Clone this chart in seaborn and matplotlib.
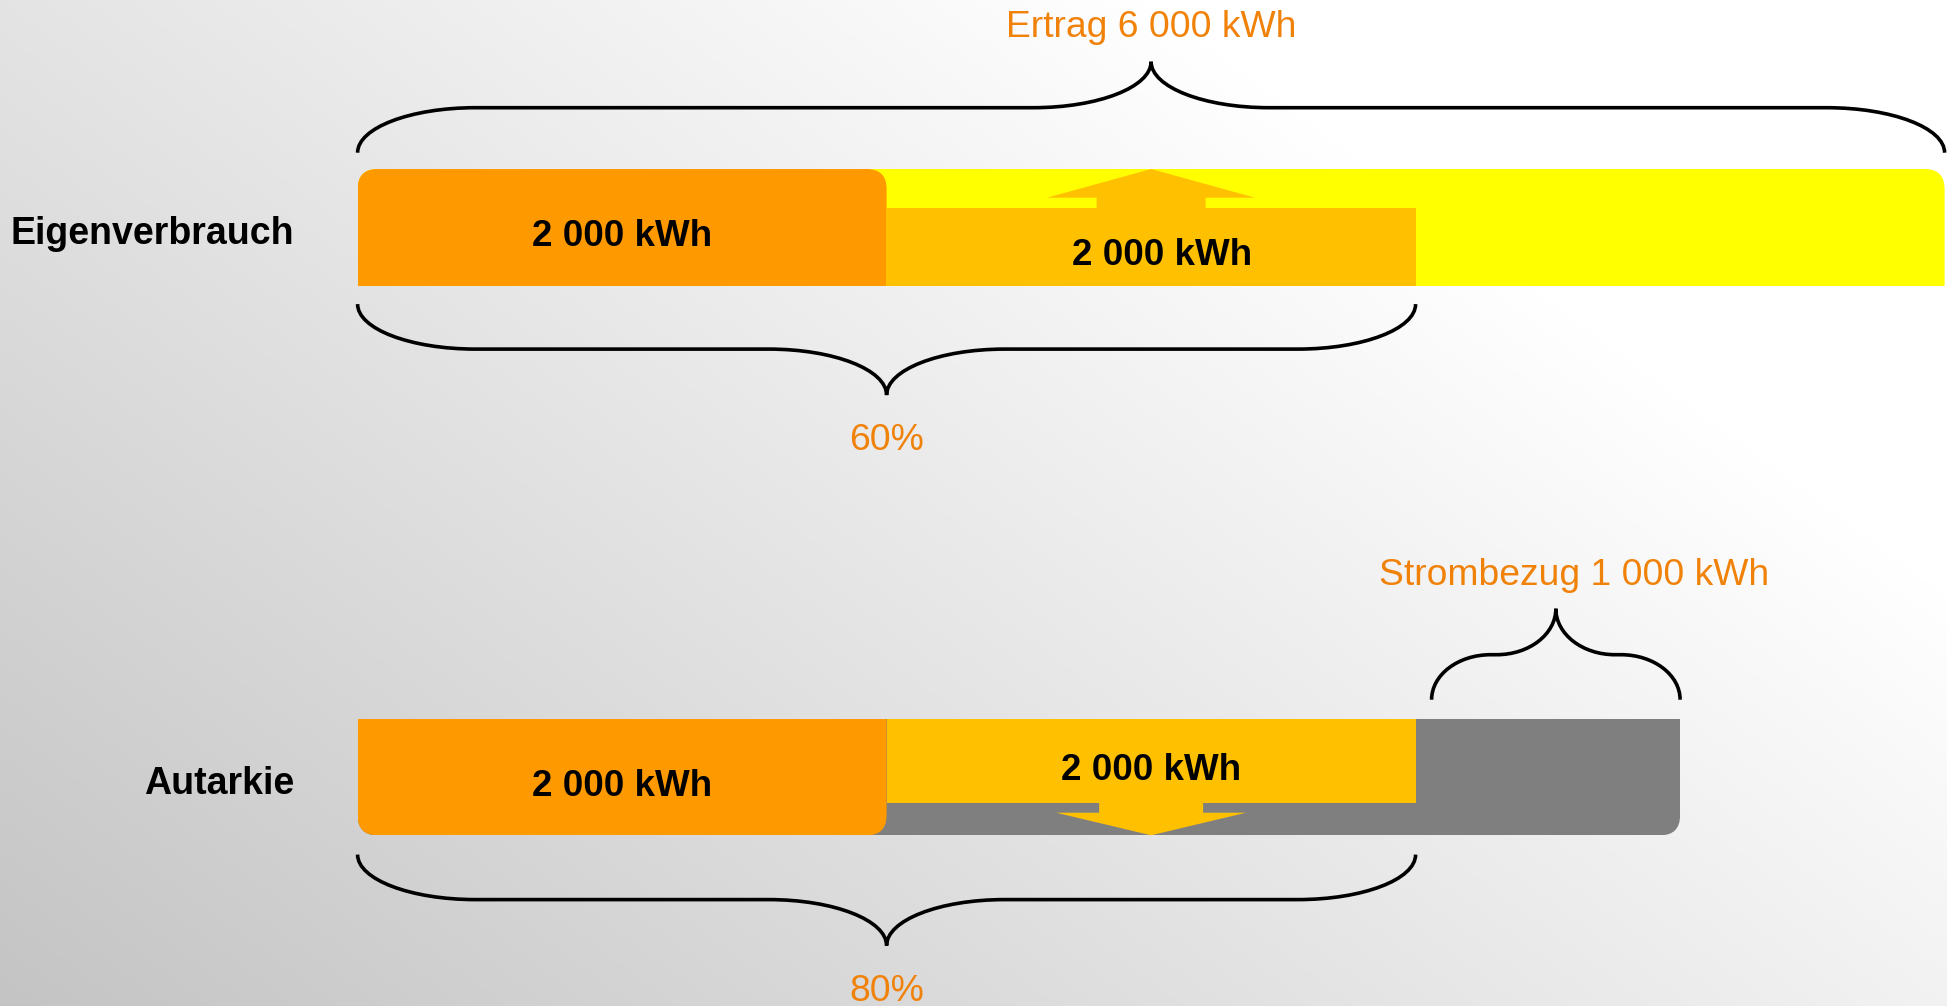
import numpy as np
import pandas as pd
import matplotlib
matplotlib.use("Agg")
import matplotlib.pyplot as plt
import seaborn as sns
from matplotlib.patches import FancyBboxPatch, Polygon, PathPatch
from matplotlib.path import Path

# ---------------- data ----------------
categories = ["Eigenverbrauch", "Autarkie"]
direct_kwh = [2000, 2000]      # orange segment
shifted_kwh = [2000, 2000]     # light-orange segment
rest_kwh = [2000, 1000]        # yellow (feed-in) / grey (Strombezug)
ertrag_kwh = 6000
strombezug_kwh = 1000
pct_labels = ["60%", "80%"]
ertrag_label = "Ertrag"
strombezug_label = "Strombezug"

totals = [d + s + r for d, s, r in zip(direct_kwh, shifted_kwh, rest_kwh)]


def fmt(v):
    return f"{v:,}".replace(",", " ") + " kWh"


# ---------------- style ----------------
sns.set_theme(style="white")
plt.rcParams["font.family"] = ["Liberation Sans", "DejaVu Sans"]

ORANGE = "#FF9900"
LIGHT_ORANGE = "#FFC000"
YELLOW = "#FFFF00"
GREY = "#7F7F7F"
TXT_ORANGE = "#F0820A"
FS = 26.5
FS_CAT = 27
FS_ORANGE = 26.8

W, H = 1947, 1006
fig = plt.figure(figsize=(W / 100, H / 100), dpi=100)

# background gradient
bg = fig.add_axes([0, 0, 1, 1], zorder=-10)
xx, yy = np.meshgrid(np.arange(W), np.arange(H))
val = np.clip(196 + 46 * xx / W + 32 * (H - yy) / H, 0, 255) / 255.0
bg.imshow(np.dstack([val] * 3), aspect="auto", extent=(0, W, H, 0))
bg.axis("off")

# main axes: x in kWh, y categorical
X0_PX = 357.6
PX_PER_KWH = 529.0 / 2000
PX_PER_CAT = 549.7
CY0_PX = 227.3

ax = fig.add_axes([X0_PX / W, 0, 1 - X0_PX / W, 1])
ax.patch.set_visible(False)


def dx(p):
    return p / PX_PER_KWH


def dy(p):
    return p / PX_PER_CAT


BAR_H = dy(116.6)

df = pd.DataFrame({"cat": categories, "total": totals, "direct": direct_kwh})

n0 = len(ax.patches)
sns.barplot(data=df, x="total", y="cat", hue="cat", palette=[YELLOW, GREY],
            width=BAR_H, saturation=1, legend=False, errorbar=None,
            orient="h", ax=ax)
back_bars = sorted(ax.patches[n0:], key=lambda p: p.get_y())
n1 = len(ax.patches)
sns.barplot(data=df, x="direct", y="cat", color=ORANGE, width=BAR_H,
            saturation=1, errorbar=None, orient="h", ax=ax)
front_bars = sorted(ax.patches[n1:], key=lambda p: p.get_y())

for p in ax.patches:
    p.set_edgecolor("none")
    p.set_linewidth(0)

# rounded corners via clip paths
R = 20
ASP = PX_PER_KWH / PX_PER_CAT


def round_clip(x0, x1, yc, top_round):
    ext = dy(3 * R)
    if top_round:
        y, hh = yc - BAR_H / 2, BAR_H + ext
    else:
        y, hh = yc - BAR_H / 2 - ext, BAR_H + ext
    return FancyBboxPatch((x0, y), x1 - x0, hh,
                          boxstyle=f"round,pad=0,rounding_size={dx(R)}",
                          mutation_aspect=ASP, transform=ax.transData)


for i in range(2):
    back_bars[i].set_clip_path(round_clip(0, totals[i], i, i == 0))
    front_bars[i].set_clip_path(round_clip(0, direct_kwh[i], i, i == 0))

# light-orange partial segments
lo_top = [-19.6, -58.3]
lo_bot = [58.3, 25.7]
for i in range(2):
    yt, yb = i + dy(lo_top[i]), i + dy(lo_bot[i])
    ax.barh(y=(yt + yb) / 2, width=shifted_kwh[i], left=direct_kwh[i],
            height=yb - yt, color=LIGHT_ORANGE, linewidth=0, zorder=2)

# arrows
def arrow(cx, y_base, y_head, y_tip, stem_w, head_w):
    sh, hh = dx(stem_w / 2), dx(head_w / 2)
    pts = [(cx - sh, y_base), (cx - sh, y_head), (cx - hh, y_head),
           (cx, y_tip), (cx + hh, y_head), (cx + sh, y_head), (cx + sh, y_base)]
    ax.add_patch(Polygon(pts, closed=True, facecolor=LIGHT_ORANGE,
                         edgecolor="none", zorder=3))


cx0 = direct_kwh[0] + shifted_kwh[0] / 2
arrow(cx0, 0 + dy(lo_top[0] + 1.5), 0 - BAR_H / 2 + dy(28.7), 0 - BAR_H / 2, 109, 208)
cx1 = direct_kwh[1] + shifted_kwh[1] / 2
arrow(cx1, 1 + dy(lo_bot[1] - 1.5), 1 + dy(lo_bot[1] + 10), 1 + BAR_H / 2, 104, 190)

# value labels
VAL_OFF = dy(18.8)
lo_text_dx = [11, 0]
for i in range(2):
    ax.text(direct_kwh[i] / 2, i + VAL_OFF, fmt(direct_kwh[i]),
            ha="center", va="baseline", fontsize=FS, fontweight="bold",
            color="black", zorder=5)
    yc_lo = i + dy((lo_top[i] + lo_bot[i]) / 2)
    ax.text(direct_kwh[i] + shifted_kwh[i] / 2 + dx(lo_text_dx[i]), yc_lo + VAL_OFF,
            fmt(shifted_kwh[i]), ha="center", va="baseline", fontsize=FS,
            fontweight="bold", color="black", zorder=5)

# curly braces
K = 0.5523


def brace(x0, x1, y_end, s, r_max=118, depth1=45, depth2=46):
    y_flat = y_end + s * dy(depth1)
    y_tip = y_flat + s * dy(depth2)
    rx = min(dx(r_max), (x1 - x0) / 4.2)
    xm = (x0 + x1) / 2
    verts = [
        (x0, y_end),
        (x0, y_end + K * (y_flat - y_end)), (x0 + rx * (1 - K), y_flat), (x0 + rx, y_flat),
        (xm - rx, y_flat),
        (xm - rx + K * rx, y_flat), (xm, y_tip + K * (y_flat - y_tip)), (xm, y_tip),
        (xm, y_tip + K * (y_flat - y_tip)), (xm + rx - K * rx, y_flat), (xm + rx, y_flat),
        (x1 - rx, y_flat),
        (x1 - rx + K * rx, y_flat), (x1, y_end + K * (y_flat - y_end)), (x1, y_end),
    ]
    codes = [Path.MOVETO,
             Path.CURVE4, Path.CURVE4, Path.CURVE4,
             Path.LINETO,
             Path.CURVE4, Path.CURVE4, Path.CURVE4,
             Path.CURVE4, Path.CURVE4, Path.CURVE4,
             Path.LINETO,
             Path.CURVE4, Path.CURVE4, Path.CURVE4]
    ax.add_patch(PathPatch(Path(verts, codes), fill=False, edgecolor="black",
                           linewidth=2.6, zorder=4, clip_on=False))
    return xm, y_tip


# Ertrag brace (above bar 1)
tx, ty = brace(0, ertrag_kwh, 0 - BAR_H / 2 - dy(16.3), -1)
ax.text(tx, ty - dy(25), f"{ertrag_label} {fmt(ertrag_kwh)}", ha="center",
        va="baseline", fontsize=FS_ORANGE, color=TXT_ORANGE, clip_on=False)

# percentage brace bar 1
used0 = direct_kwh[0] + shifted_kwh[0]
tx, ty = brace(0, used0, 0 + BAR_H / 2 + dy(18.5), +1)
ax.text(tx, ty + dy(55), pct_labels[0], ha="center", va="baseline",
        fontsize=FS_ORANGE, color=TXT_ORANGE, clip_on=False)

# Strombezug brace (above grey part of bar 2)
used1 = direct_kwh[1] + shifted_kwh[1]
tx, ty = brace(used1 + dx(16), used1 + strombezug_kwh, 1 - BAR_H / 2 - dy(19), -1)
ax.text(tx + dx(18), ty - dy(24), f"{strombezug_label} {fmt(strombezug_kwh)}",
        ha="center", va="baseline", fontsize=FS_ORANGE, color=TXT_ORANGE, clip_on=False)

# percentage brace bar 2
tx, ty = brace(0, used1, 1 + BAR_H / 2 + dy(19.3), +1)
ax.text(tx, ty + dy(55), pct_labels[1], ha="center", va="baseline",
        fontsize=FS_ORANGE, color=TXT_ORANGE, clip_on=False)

# axes cosmetics
ax.set_xlim(0, dx(W - X0_PX))
ax.set_ylim(dy(H - CY0_PX), -dy(CY0_PX))
ax.set_yticks([0 + dy(3), 1 + dy(3)])
ax.set_yticklabels(categories, fontsize=FS_CAT, fontweight="bold", color="black")
ax.tick_params(axis="y", length=0, pad=45.8)
ax.tick_params(axis="x", length=0, labelbottom=False)
ax.set_xlabel("")
ax.set_ylabel("")
for sp in ax.spines.values():
    sp.set_visible(False)

fig.savefig("out.png", dpi=100)
